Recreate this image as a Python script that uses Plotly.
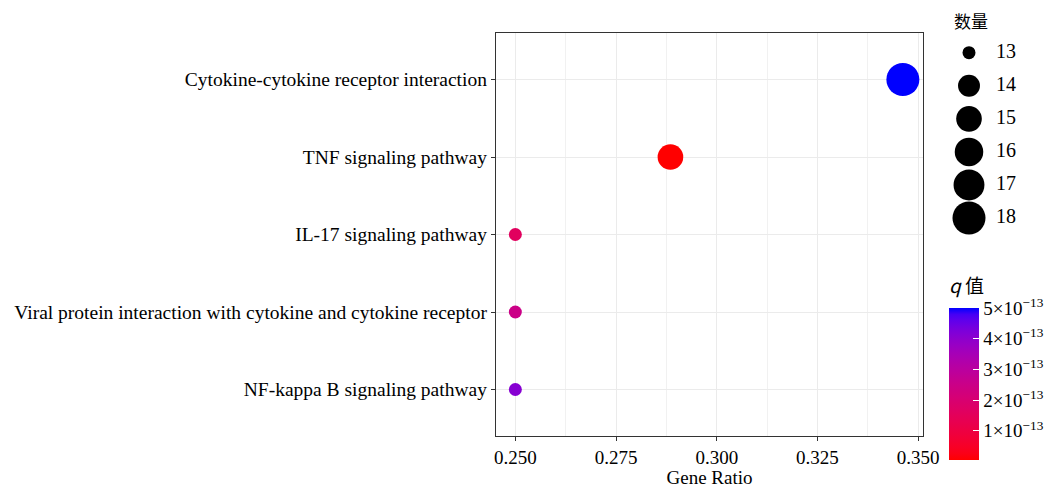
import math
import plotly.graph_objects as go

# ---------------- data ----------------
pathways = [
    "Cytokine-cytokine receptor interaction",
    "TNF signaling pathway",
    "IL-17 signaling pathway",
    "Viral protein interaction with cytokine and cytokine receptor",
    "NF-kappa B signaling pathway",
]
gene_ratio = [0.3462, 0.2885, 0.2500, 0.2500, 0.2500]
counts = [18, 15, 13, 13, 13]
q_values = [5.0e-13, 0.05e-13, 1.6e-13, 2.5e-13, 4.1e-13]

size_legend_values = [13, 14, 15, 16, 17, 18]
q_tick_vals = [1e-13, 2e-13, 3e-13, 4e-13, 5e-13]
q_tick_text = ["1×10<sup>−13</sup>", "2×10<sup>−13</sup>", "3×10<sup>−13</sup>",
               "4×10<sup>−13</sup>", "5×10<sup>−13</sup>"]
x_tick_vals = [0.250, 0.275, 0.300, 0.325, 0.350]
x_tick_text = ["0.250", "0.275", "0.300", "0.325", "0.350"]

# ---------------- style helpers ----------------
SERIF = "Liberation Serif, Times New Roman, serif"
CJK = "Noto Sans CJK SC, Liberation Serif, serif"

cmin_n, cmax_n = min(size_legend_values), max(size_legend_values)
D_MIN, D_MAX = 13, 33


def diam(n):
    # ggplot-like area scaling
    return D_MIN + (D_MAX - D_MIN) * math.sqrt((n - cmin_n) / (cmax_n - cmin_n))


def srgb_to_lab(rgb):
    def lin(c):
        c = c / 255
        return c / 12.92 if c <= 0.04045 else ((c + 0.055) / 1.055) ** 2.4
    r, g, b = (lin(c) for c in rgb)
    X = 0.4124 * r + 0.3576 * g + 0.1805 * b
    Y = 0.2126 * r + 0.7152 * g + 0.0722 * b
    Z = 0.0193 * r + 0.1192 * g + 0.9505 * b
    xn, yn, zn = 0.95047, 1.0, 1.08883

    def f(t):
        return t ** (1 / 3) if t > 0.008856 else 7.787 * t + 16 / 116
    fx, fy, fz = f(X / xn), f(Y / yn), f(Z / zn)
    return (116 * fy - 16, 500 * (fx - fy), 200 * (fy - fz))


def lab_to_srgb(lab):
    L, a, b = lab
    fy = (L + 16) / 116
    fx = fy + a / 500
    fz = fy - b / 200

    def finv(t):
        return t ** 3 if t ** 3 > 0.008856 else (t - 16 / 116) / 7.787
    X, Y, Z = 0.95047 * finv(fx), finv(fy), 1.08883 * finv(fz)
    r = 3.2406 * X - 1.5372 * Y - 0.4986 * Z
    g = -0.9689 * X + 1.8758 * Y + 0.0415 * Z
    bb = 0.0557 * X - 0.2040 * Y + 1.0570 * Z

    def gam(c):
        c = max(0.0, min(1.0, c))
        return 12.92 * c if c <= 0.0031308 else 1.055 * c ** (1 / 2.4) - 0.055
    return tuple(int(round(gam(c) * 255)) for c in (r, g, bb))


lab_lo = srgb_to_lab((255, 0, 0))
lab_hi = srgb_to_lab((0, 0, 255))
colorscale = []
N = 24
for i in range(N + 1):
    t = i / N
    lab = tuple(lo + (hi - lo) * t for lo, hi in zip(lab_lo, lab_hi))
    r, g, b = lab_to_srgb(lab)
    colorscale.append([t, f"rgb({r},{g},{b})"])

# ---------------- layout geometry ----------------
# the page body has an 8px default margin, so the figure is offset by 8px
OFF = 8
W, H = 1061 - OFF, 488 - OFF
ML = 496 - OFF
MT = 33 - OFF
MR = W - (1040 - OFF)
MB = H - (436 - OFF)
PW = W - ML - MR
PH = H - MT - MB


def px_x(p):
    return (p - OFF - ML) / PW


def px_y(p):
    return (H - MB - (p - OFF)) / PH


fig = go.Figure()

# main bubbles
fig.add_trace(go.Scatter(
    x=gene_ratio, y=pathways, mode="markers",
    marker=dict(
        size=[diam(n) for n in counts],
        color=q_values, colorscale=colorscale,
        cmin=min(q_values), cmax=max(q_values),
        line=dict(width=0), opacity=1,
        colorbar=dict(
            x=px_x(949), xanchor="left", xpad=0,
            y=px_y(460), yanchor="bottom", ypad=0,
            len=184, lenmode="pixels", thickness=30,
            outlinewidth=0,
            tickvals=q_tick_vals, ticktext=q_tick_text,
            ticks="inside", ticklen=6, tickcolor="white", tickwidth=1,
            tickfont=dict(family=SERIF, size=19, color="black"),
            title=dict(text="<i>q</i> 值", side="top",
                       font=dict(family=CJK, size=19, color="black")),
        ),
    ),
    showlegend=False, hoverinfo="x+y",
))

# size legend (drawn on its own axes)
leg_idx = list(range(len(size_legend_values)))
fig.add_trace(go.Scatter(
    x=[29] * len(size_legend_values), y=leg_idx, mode="markers",
    marker=dict(size=[diam(n) for n in size_legend_values], color="black",
                line=dict(width=0), opacity=1),
    xaxis="x2", yaxis="y2", showlegend=False, hoverinfo="skip",
))
fig.add_trace(go.Scatter(
    x=[56] * len(size_legend_values), y=leg_idx, mode="text",
    text=[str(v) for v in size_legend_values], textposition="middle right",
    textfont=dict(family=SERIF, size=20, color="black"),
    xaxis="x2", yaxis="y2", showlegend=False, hoverinfo="skip",
))

fig.update_layout(
    width=W, height=H,
    margin=dict(l=ML, r=MR, t=MT, b=MB, autoexpand=False),
    paper_bgcolor="white", plot_bgcolor="white",
    font=dict(family=SERIF, color="black"),
    xaxis=dict(
        domain=[0, px_x(923)],
        range=[0.2452, 0.3512],
        tickvals=x_tick_vals, ticktext=x_tick_text,
        tickfont=dict(family=SERIF, size=19, color="black"),
        ticks="outside", ticklen=4, tickcolor="#333333",
        showgrid=True, gridcolor="#ebebeb", gridwidth=1.2,
        minor=dict(dtick=0.0125, tick0=0.25, showgrid=True,
                   gridcolor="#f1f1f1", gridwidth=0.8),
        showline=True, linecolor="#333333", linewidth=1.3, mirror=True,
        zeroline=False, automargin=False,
        title=dict(text="Gene Ratio", standoff=2,
                   font=dict(family=SERIF, size=19, color="black")),
    ),
    yaxis=dict(
        type="category", categoryorder="array",
        categoryarray=pathways[::-1],
        range=[-0.6, 4.6],
        tickfont=dict(family=SERIF, size=19.5, color="black"),
        ticks="outside", ticklen=4, tickcolor="#333333",
        showgrid=True, gridcolor="#ebebeb", gridwidth=1.2,
        showline=True, linecolor="#333333", linewidth=1.3, mirror=True,
        zeroline=False, automargin=False,
    ),
    xaxis2=dict(domain=[px_x(940), 1.0], range=[0, 100], visible=False,
                fixedrange=True),
    yaxis2=dict(domain=[px_y(235), px_y(40)], range=[5.514, -0.384],
                visible=False, fixedrange=True, anchor="x2"),
    annotations=[dict(
        text="数量", x=px_x(971), y=px_y(20), xref="paper", yref="paper",
        xanchor="center", yanchor="middle", showarrow=False, borderpad=0,
        font=dict(family=CJK, size=17, color="black"),
    )],
)

fig.write_html("out.html")
